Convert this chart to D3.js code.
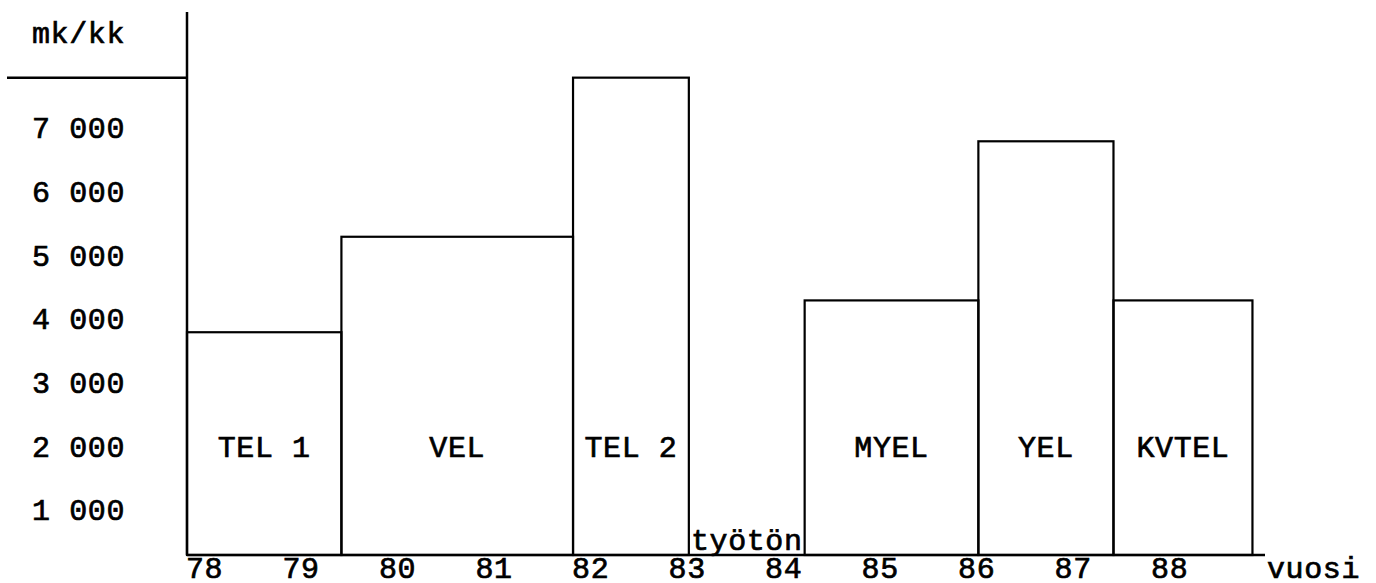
<!DOCTYPE html>
<html>
<head>
<meta charset="utf-8">
<script src="https://cdn.jsdelivr.net/npm/d3@7"></script>
<style>
  html, body { margin: 0; padding: 0; background: #fff; }
  svg { display: block; }
  text { font-family: "Liberation Mono", "DejaVu Sans Mono", monospace; font-weight: normal; font-size: 30px; letter-spacing: 0.6px; fill: #000; stroke: #000; stroke-width: 0.7px; }
</style>
</head>
<body>
<svg id="chart" width="1376" height="583"></svg>
<script>
// ---- data ----
const categories = ["TEL 1", "VEL", "TEL 2", "työtön", "MYEL", "YEL", "KVTEL"];
const startYears = [78, 79.6, 82, 83.2, 84.4, 86.2, 87.6];
const endYears   = [79.6, 82, 83.2, 84.4, 86.2, 87.6, 89.04];
const values     = [3500, 5000, 7500, 0, 4000, 6500, 4000];
const yTicks     = [1000, 2000, 3000, 4000, 5000, 6000, 7000];
const xTicks     = [78, 79, 80, 81, 82, 83, 84, 85, 86, 87, 88];
const yUnit = "mk/kk";
const xUnit = "vuosi";
const headerRuleValue = 7500;
const labelRowValue = 2000;

// ---- layout ----
const svg = d3.select("#chart");
const x = d3.scaleLinear().domain([78, 89.17]).range([187, 1265]);
const y = d3.scaleLinear().domain([0, 8500]).range([555, 14]);
const fmt = v => d3.format(",")(v).replace(/,/g, " ");

const bars = categories.map((c, i) => ({ name: c, x0: startYears[i], x1: endYears[i], v: values[i] }));

// bars (outlined)
svg.append("g").selectAll("rect")
  .data(bars.filter(d => d.v > 0))
  .join("rect")
  .attr("x", d => x(d.x0))
  .attr("y", d => y(d.v))
  .attr("width", d => x(d.x1) - x(d.x0))
  .attr("height", d => y(0) - y(d.v))
  .attr("fill", "none")
  .attr("stroke", "#000")
  .attr("stroke-width", 2.2);

// bar labels
svg.append("g").selectAll("text")
  .data(bars)
  .join("text")
  .attr("x", d => (x(d.x0) + x(d.x1)) / 2)
  .attr("y", d => d.v > 0 ? y(labelRowValue) + 29 : y(0) - 5)
  .attr("text-anchor", "middle")
  .text(d => d.name);

// axes lines
svg.append("line")
  .attr("x1", x(78)).attr("x2", x(78))
  .attr("y1", y.range()[1] - 2).attr("y2", y(0))
  .attr("stroke", "#000").attr("stroke-width", 2.5);
svg.append("line")
  .attr("x1", x(78)).attr("x2", x.range()[1])
  .attr("y1", y(0)).attr("y2", y(0))
  .attr("stroke", "#000").attr("stroke-width", 2.5);

// header rule under unit
svg.append("line")
  .attr("x1", 7).attr("x2", x(78))
  .attr("y1", y(headerRuleValue)).attr("y2", y(headerRuleValue))
  .attr("stroke", "#000").attr("stroke-width", 2.5);

// y tick labels
svg.append("g").selectAll("text")
  .data(yTicks)
  .join("text")
  .attr("x", 32)
  .attr("y", d => y(d) + 29)
  .text(d => fmt(d));

// unit label
svg.append("text").attr("x", 32).attr("y", 43).text(yUnit);

// x tick labels
svg.append("g").selectAll("text")
  .data(xTicks)
  .join("text")
  .attr("x", d => x(d) - 1)
  .attr("y", y(0) + 23)
  .text(d => d);

svg.append("text").attr("x", x.range()[1] + 2).attr("y", y(0) + 23).text(xUnit);
</script>
</body>
</html>
